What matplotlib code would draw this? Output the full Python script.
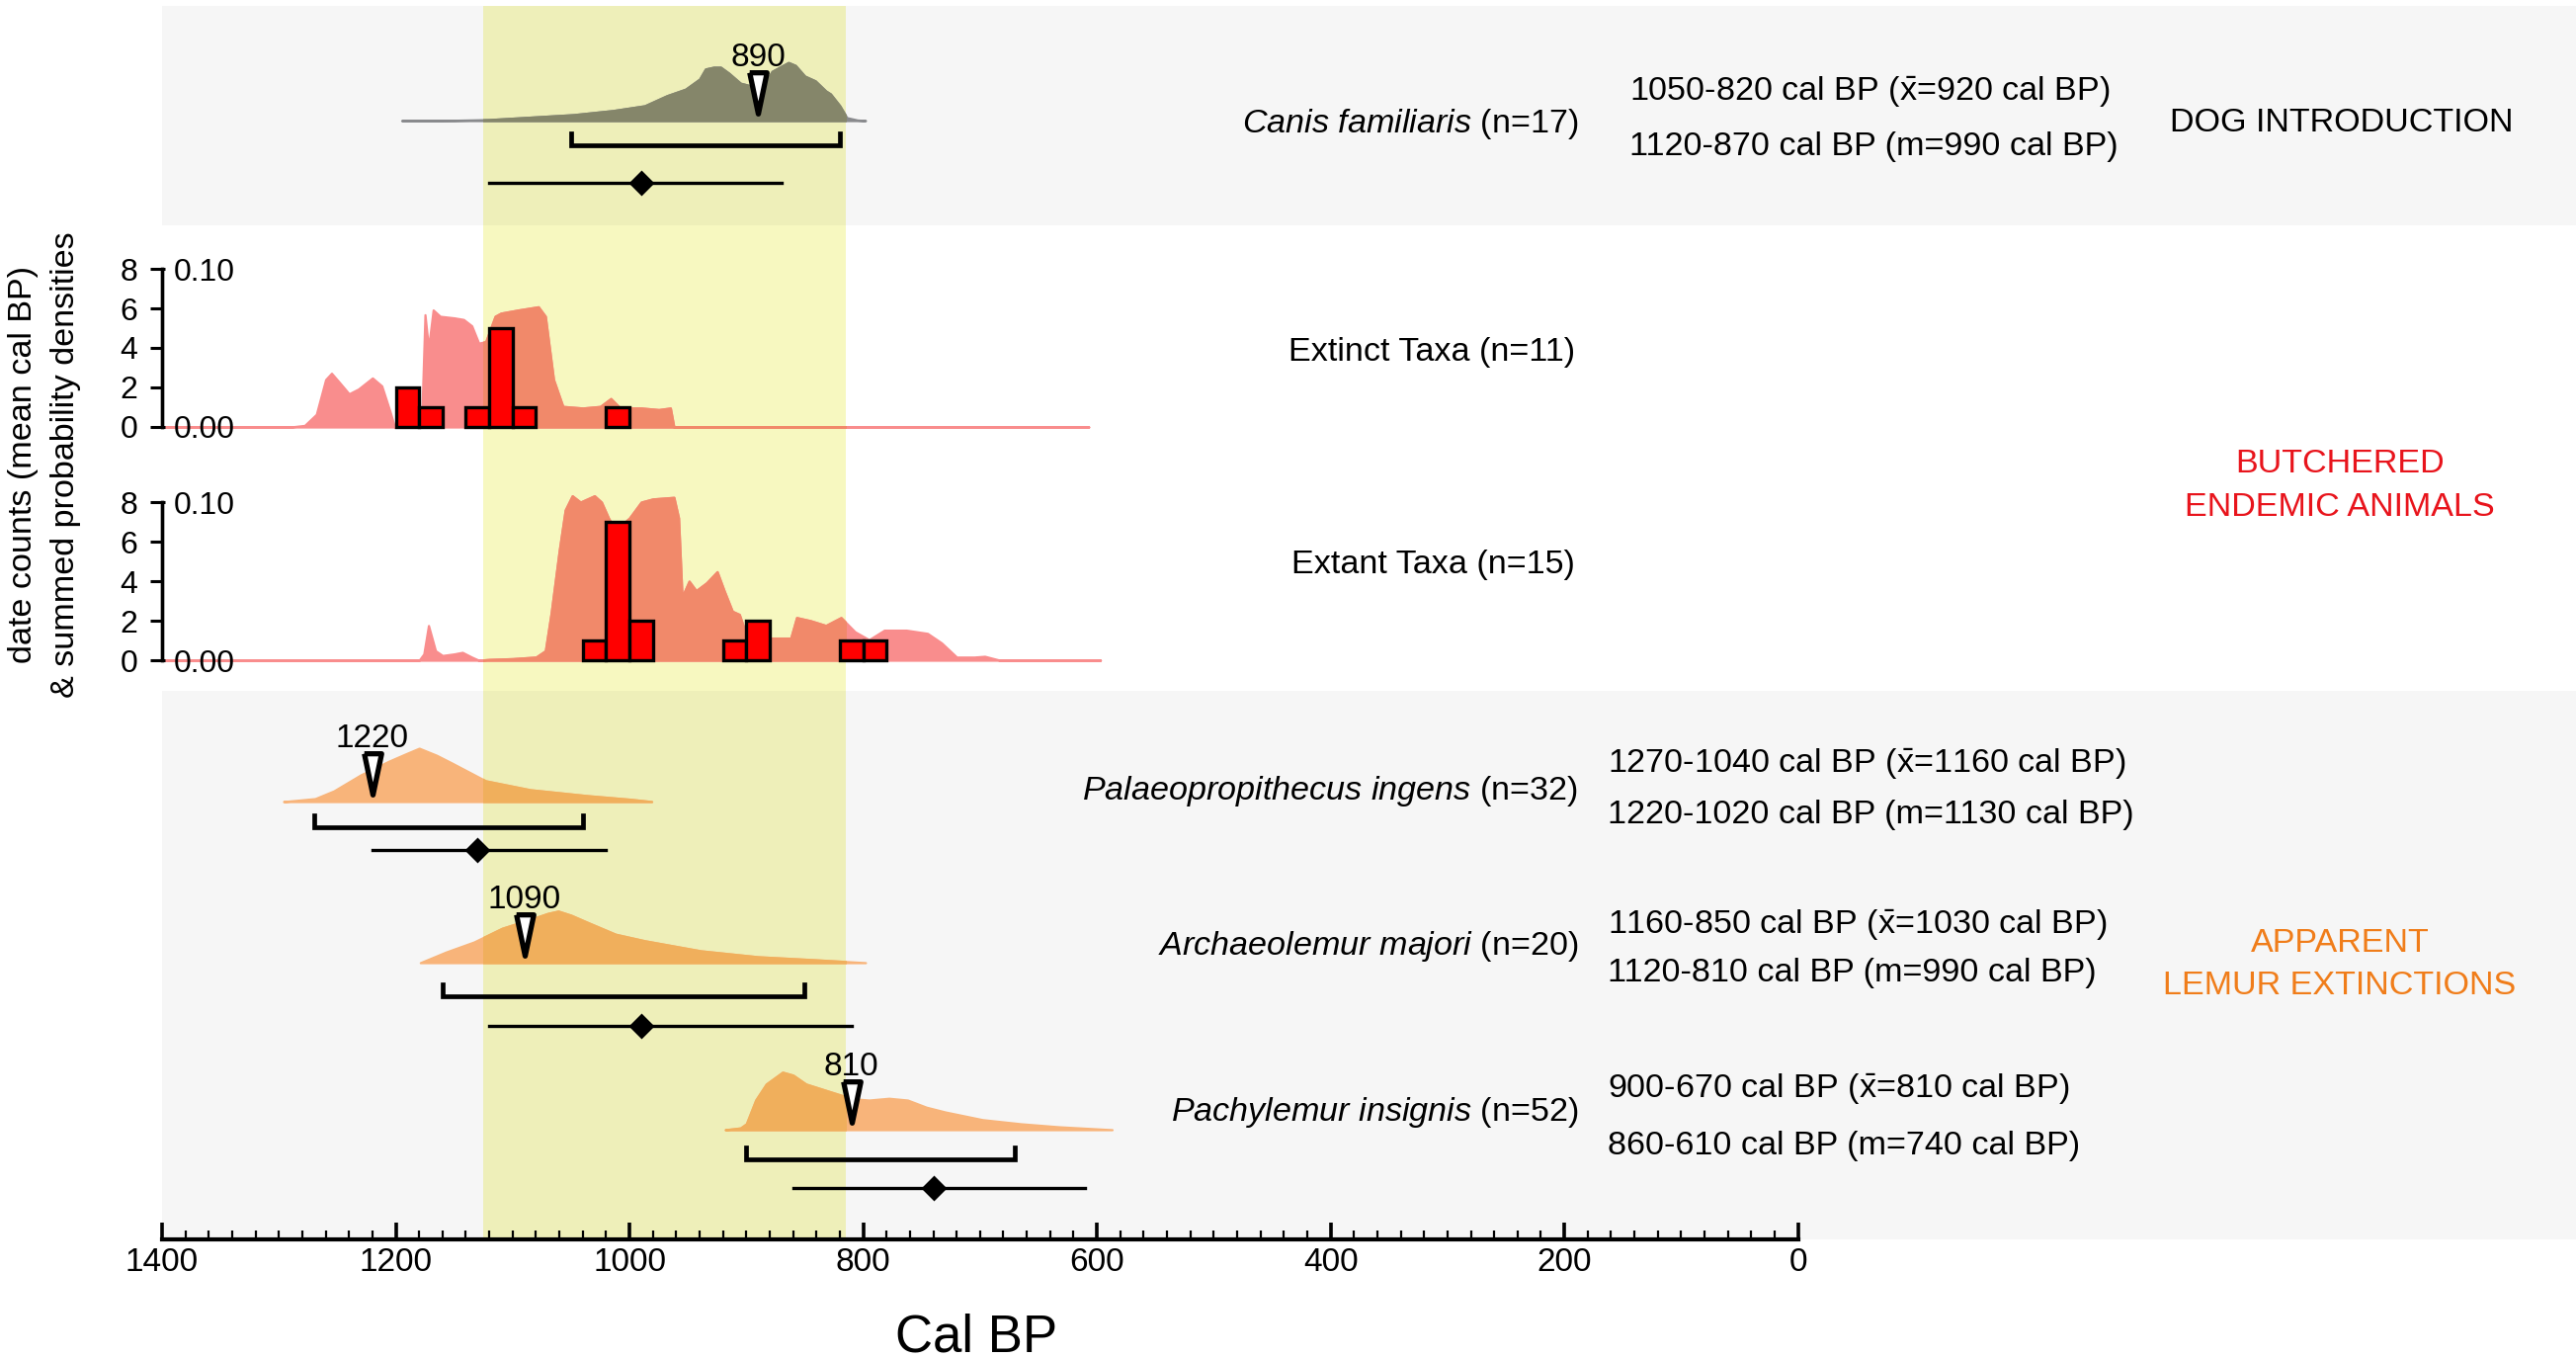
import matplotlib
matplotlib.use('Agg')
import matplotlib.pyplot as plt
import matplotlib.colors as mcolors
from matplotlib.patches import Rectangle
import numpy as np

plt.rcParams['font.family'] = ['Liberation Sans', 'DejaVu Sans']
plt.rcParams['mathtext.fontset'] = 'custom'
plt.rcParams['mathtext.rm'] = 'Liberation Sans'
plt.rcParams['mathtext.it'] = 'Liberation Sans:italic'
plt.rcParams['mathtext.bf'] = 'Liberation Sans:bold'

# ---------------- data ----------------
band = (1125, 815)  # shaded interval, cal BP

species = ['Canis familiaris', 'Palaeopropithecus ingens',
           'Archaeolemur majori', 'Pachylemur insignis']
n_dates = [17, 32, 20, 52]
mean_range = [(1050, 820), (1270, 1040), (1160, 850), (900, 670)]
mean_val = [920, 1160, 1030, 810]
median_range = [(1120, 870), (1220, 1020), (1120, 810), (860, 610)]
median_val = [990, 1130, 990, 740]
triangle_val = [890, 1220, 1090, 810]

# summed probability (relative heights)
dog_x = [1195, 1150, 1120, 1048, 1014, 987, 968, 952, 940, 935, 928, 922, 915,
         905, 895, 885, 878, 864, 858, 850, 841, 832, 828, 820, 814, 805, 798]
dog_d = [0, 0.005, 0.017, 0.10, 0.17, 0.25, 0.42, 0.53, 0.70, 0.87, 0.90, 0.90,
         0.80, 0.63, 0.58, 0.60, 0.83, 0.98, 0.93, 0.75, 0.67, 0.50, 0.45, 0.25,
         0.05, 0.01, 0]
palaeo_x = [1296, 1285, 1269, 1253, 1230, 1206, 1192, 1180, 1165, 1152, 1123,
            1085, 1036, 1000, 981]
palaeo_d = [0, 0.02, 0.05, 0.18, 0.45, 0.68, 0.80, 0.90, 0.78, 0.65, 0.35,
            0.20, 0.10, 0.04, 0]
archaeo_x = [1179, 1157, 1133, 1109, 1085, 1070, 1061, 1050, 1036, 1012, 987,
             939, 890, 842, 798]
archaeo_d = [0, 0.18, 0.35, 0.58, 0.73, 0.83, 0.87, 0.80, 0.68, 0.48, 0.37,
             0.20, 0.10, 0.05, 0]
pachy_x = [918, 905, 900, 892, 883, 869, 860, 849, 833, 817, 808, 795, 778,
           762, 746, 730, 698, 665, 633, 587]
pachy_d = [0, 0.03, 0.10, 0.50, 0.77, 0.97, 0.92, 0.77, 0.67, 0.57, 0.52, 0.50,
           0.53, 0.50, 0.38, 0.30, 0.17, 0.10, 0.05, 0]

# butchered endemic animals: summed densities and date counts (20-yr bins)
extinct_x = [1400, 1290, 1278, 1268, 1260, 1255, 1248, 1240, 1232, 1220, 1212,
             1205, 1201, 1178, 1175, 1172, 1168, 1162, 1150, 1142, 1135, 1129,
             1123, 1115, 1110, 1095, 1078, 1072, 1065, 1057, 1040, 1025, 1016,
             1008, 990, 975, 965, 962, 607]
extinct_d = [0, 0, 0.001, 0.008, 0.030, 0.034, 0.028, 0.021, 0.024, 0.031,
             0.026, 0.010, 0, 0, 0.071, 0.050, 0.074, 0.070, 0.069, 0.068,
             0.064, 0.053, 0.054, 0.070, 0.072, 0.074, 0.076, 0.070, 0.030,
             0.013, 0.012, 0.013, 0.018, 0.012, 0.012, 0.011, 0.012, 0, 0]
extant_x = [1400, 1180, 1176, 1172, 1166, 1160, 1150, 1143, 1135, 1129, 1120,
            1100, 1080, 1072, 1067, 1060, 1055, 1049, 1042, 1036, 1030, 1024,
            1018, 1012, 1000, 990, 980, 962, 958, 955, 949, 943, 934, 925, 919,
            912, 906, 900, 880, 862, 857, 845, 832, 819, 807, 795, 782, 763,
            745, 733, 720, 705, 696, 683, 597]
extant_d = [0, 0, 0.004, 0.022, 0.006, 0.003, 0.004, 0.005, 0.002, 0, 0.0005,
            0.001, 0.002, 0.006, 0.030, 0.070, 0.095, 0.104, 0.100, 0.102,
            0.104, 0.100, 0.090, 0.082, 0.090, 0.100, 0.102, 0.103, 0.090,
            0.040, 0.050, 0.044, 0.049, 0.056, 0.044, 0.031, 0.029, 0.016,
            0.014, 0.014, 0.027, 0.025, 0.022, 0.027, 0.018, 0.013, 0.019,
            0.019, 0.017, 0.011, 0.002, 0.002, 0.0025, 0, 0]

extinct_bins = [1190, 1170, 1130, 1110, 1090, 1010]
extinct_counts = [2, 1, 1, 5, 1, 1]
extant_bins = [1030, 1010, 990, 910, 890, 810, 790]
extant_counts = [1, 7, 2, 1, 2, 1, 1]
bin_width = 20

# ---------------- style / layout ----------------
W, H, DPI = 2607, 1374, 200
GRAY = '#f6f6f6'
BAND_COL = '#f7f8c0'
DOG_COL = '#898a8d'
PINK = '#f98d8d'
ORANGE = '#f8b47a'
RED_TXT = '#e8141c'
ORANGE_TXT = '#f07d1a'
FS = 12.3

X0_PX = 164          # pixel column of 1400 cal BP
PX_PER_YR = 1.1826
XLIM = (1400, 1400 - (W - X0_PX) / PX_PER_YR)
DENS_PX = 60


def fx(px):
    return px / W


def fy(py):
    return 1 - py / H


def mult(c1, c2):
    return tuple(np.array(mcolors.to_rgb(c1)) * np.array(mcolors.to_rgb(c2)))


fig = plt.figure(figsize=(W / DPI, H / DPI), dpi=DPI)


def add_ax(top, bottom, face):
    ax = fig.add_axes([fx(X0_PX), fy(bottom), 1 - fx(X0_PX), (bottom - top) / H])
    ax.set_facecolor(face)
    ax.set_xlim(*XLIM)
    for s in ax.spines.values():
        s.set_visible(False)
    ax.tick_params(left=False, bottom=False, labelleft=False, labelbottom=False)
    return ax


def draw_band(ax, face):
    ax.axvspan(band[1], band[0], color=mult(BAND_COL, face), lw=0, zorder=0.5)


def draw_density(ax, x, d, base, scale, color):
    x = np.asarray(x, float)
    top = base + np.asarray(d, float) * scale
    ax.fill_between(x, base, top, facecolor=color, edgecolor=color, lw=0.8, zorder=1)
    inner = mult(color, BAND_COL)
    p = ax.fill_between(x, base, top, facecolor=inner, edgecolor=inner, lw=0.8, zorder=1.1)
    p.set_clip_path(Rectangle((band[1], -1e5), band[0] - band[1], 2e5,
                              transform=ax.transData))


# ---- dog panel ----
ax_dog = add_ax(6, 228, GRAY)
ax_dog.set_ylim(228, 6)
draw_band(ax_dog, GRAY)

# ---- lemur panel ----
ax_lem = add_ax(699, 1254, GRAY)
ax_lem.set_ylim(1254, 699)
draw_band(ax_lem, GRAY)

# row layout (pixel rows)
row_ax = [ax_dog, ax_lem, ax_lem, ax_lem]
base_y = [122, 811, 974, 1143]
bracket_y = [147, 837, 1008, 1173]
line_y = [185, 860, 1038, 1202]
label_y = [122, 797, 954, 1122]
stats_y = [(90, 145), (770, 821), (933, 981), (1099, 1156)]
stats_x = [1649, 1627, 1627, 1627]
dens = [(dog_x, dog_d, DOG_COL), (palaeo_x, palaeo_d, ORANGE),
        (archaeo_x, archaeo_d, ORANGE), (pachy_x, pachy_d, ORANGE)]

TRI = [(-0.42, 1), (0.42, 1), (0, -1), (-0.42, 1)]
BL = FS * DPI / 72 * 0.36   # baseline offset from cap centre (px)

for i, ax in enumerate(row_ax):
    x, d, col = dens[i]
    draw_density(ax, x, d, base_y[i], -DENS_PX, col)
    a, b = mean_range[i]
    ax.plot([a, a, b, b], [bracket_y[i] - 12, bracket_y[i], bracket_y[i], bracket_y[i] - 12],
            color='k', lw=1.7, solid_joinstyle='miter', zorder=3)
    a, b = median_range[i]
    ax.plot([a, b], [line_y[i], line_y[i]], color='k', lw=1.2, zorder=3)
    ax.plot(median_val[i], line_y[i], marker='D', ms=5.5, color='k', zorder=4)
    t = triangle_val[i]
    ax.plot(t, base_y[i] - 28, marker=TRI, ms=15, mfc='white', mec='k', mew=1.9, zorder=4)
    ax.text(t, base_y[i] - 67 + 12, str(t), ha='center', va='baseline', fontsize=12, zorder=5)

    name = species[i].replace(' ', r'\ ')
    fig.text(fx(1597), fy(label_y[i] + BL), r'$\it{%s}$ (n=%d)' % (name, n_dates[i]),
             ha='right', va='baseline', fontsize=FS)
    a, b = mean_range[i]
    fig.text(fx(stats_x[i]), fy(stats_y[i][0] + BL),
             r'%d-%d cal BP ($\bar{\mathrm{x}}$=%d cal BP)' % (a, b, mean_val[i]),
             ha='left', va='baseline', fontsize=FS)
    a, b = median_range[i]
    fig.text(fx(stats_x[i]), fy(stats_y[i][1] + BL),
             '%d-%d cal BP (m=%d cal BP)' % (a, b, median_val[i]),
             ha='left', va='baseline', fontsize=FS)

# ---- butchered animal histograms ----
hist_panels = [
    (228, 470, 432, extinct_x, extinct_d, extinct_bins, extinct_counts,
     'Extinct Taxa (n=11)', 353),
    (470, 699, 668, extant_x, extant_d, extant_bins, extant_counts,
     'Extant Taxa (n=15)', 568),
]
PX_PER_COUNT = 20
for top, bottom, zero, dx, dd, bins, counts, title, ty in hist_panels:
    ax_c = add_ax(top, bottom, 'white')
    ylim = (-(bottom - zero) / PX_PER_COUNT, (zero - top) / PX_PER_COUNT)
    ax_c.set_ylim(*ylim)
    ax_d = ax_c.twinx()
    ax_d.set_xlim(*XLIM)
    ax_d.set_ylim(ylim[0] * 0.10 / 8, ylim[1] * 0.10 / 8)
    ax_c.set_zorder(ax_d.get_zorder() + 1)
    ax_c.patch.set_visible(False)

    draw_band(ax_d, 'white')
    draw_density(ax_d, dx, dd, 0, 1, PINK)
    ax_c.bar(bins, counts, width=bin_width, color='#ff0000', edgecolor='black',
             lw=1.2, zorder=3)

    ax_c.spines['left'].set_visible(True)
    ax_c.spines['left'].set_bounds(0, 8)
    ax_c.spines['left'].set_linewidth(1.2)
    ax_c.set_yticks([0, 2, 4, 6, 8])
    ax_c.tick_params(axis='y', left=True, labelleft=True, length=4.3, width=1.1,
                     pad=4.5, labelsize=11.5)

    for s in ax_d.spines.values():
        s.set_visible(False)
    ax_d.spines['right'].set_visible(True)
    ax_d.spines['right'].set_position(('axes', 0))
    ax_d.spines['right'].set_bounds(0, 0.10)
    ax_d.spines['right'].set_linewidth(1.2)
    ax_d.set_yticks([0, 0.10])
    ax_d.set_yticklabels(['0.00', '0.10'])
    ax_d.tick_params(axis='y', right=True, labelright=True, length=1.1, width=1.1,
                     pad=3.2, labelsize=11.5)
    ax_d.tick_params(axis='x', bottom=False, labelbottom=False, top=False, labeltop=False)

    fig.text(fx(1594), fy(ty + BL), title, ha='right', va='baseline', fontsize=FS)

# ---- x axis ----
ax_lem.spines['bottom'].set_visible(True)
ax_lem.spines['bottom'].set_bounds(0, 1400)
ax_lem.spines['bottom'].set_linewidth(1.5)
ax_lem.set_xticks(np.arange(0, 1401, 200))
ax_lem.set_xticks(np.arange(0, 1401, 20), minor=True)
ax_lem.tick_params(axis='x', which='both', bottom=True, labelbottom=True, direction='in')
ax_lem.tick_params(axis='x', which='major', length=6, width=1.3, pad=3, labelsize=12)
ax_lem.tick_params(axis='x', which='minor', length=3.2, width=0.8)

fig.text(fx(988), fy(1348 + 19 * DPI / 72 * 0.36), 'Cal BP', ha='center',
         va='baseline', fontsize=19)

# ---- category labels and y label ----
fig.text(fx(2370), fy(121 + BL), 'DOG INTRODUCTION', ha='center', va='baseline', fontsize=FS)
fig.text(fx(2368), fy(466 + BL), 'BUTCHERED', ha='center', va='baseline',
         fontsize=FS, color=RED_TXT)
fig.text(fx(2368), fy(510 + BL), 'ENDEMIC ANIMALS', ha='center', va='baseline',
         fontsize=FS, color=RED_TXT)
fig.text(fx(2368), fy(951 + BL), 'APPARENT', ha='center', va='baseline',
         fontsize=FS, color=ORANGE_TXT)
fig.text(fx(2368), fy(994 + BL), 'LEMUR EXTINCTIONS', ha='center', va='baseline',
         fontsize=FS, color=ORANGE_TXT)

fig.text(fx(45), fy(470), 'date counts (mean cal BP)\n& summed probability densities',
         rotation=90, ha='center', va='center', multialignment='center',
         fontsize=FS, linespacing=1.5)

fig.savefig('out.png', dpi=DPI)
